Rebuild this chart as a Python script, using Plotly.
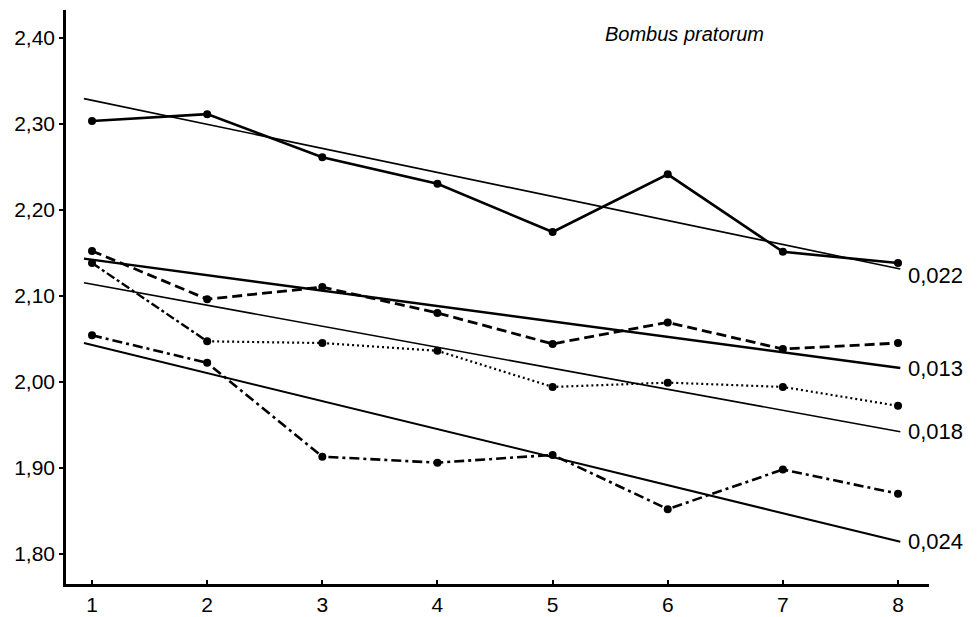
import plotly.graph_objects as go

x_vals = [1, 2, 3, 4, 5, 6, 7, 8]

series_solid = [2.303, 2.311, 2.261, 2.230, 2.174, 2.241, 2.151, 2.138]
series_dashed = [2.152, 2.096, 2.110, 2.080, 2.044, 2.069, 2.038, 2.045]
series_dotted = [2.138, 2.047, 2.045, 2.036, 1.994, 1.999, 1.994, 1.972]
series_dashdot = [2.054, 2.022, 1.913, 1.906, 1.915, 1.852, 1.898, 1.870]

# regression lines: (x start, x end), (value start, value end), label
trend_x = [0.93, 8.02]
trend_022 = [2.329, 2.131]
trend_013 = [2.143, 2.016]
trend_018 = [2.115, 1.942]
trend_024 = [2.045, 1.814]
trend_labels = ["0,022", "0,013", "0,018", "0,024"]

y_ticks = [1.80, 1.90, 2.00, 2.10, 2.20, 2.30, 2.40]
y_tick_text = ["1,80", "1,90", "2,00", "2,10", "2,20", "2,30", "2,40"]
x_tick_text = ["1", "2", "3", "4", "5", "6", "7", "8"]

FONT = "Liberation Sans, Arial, sans-serif"

fig = go.Figure()

# trend lines
trend_widths = [1.6, 2.3, 1.6, 2.0]
for vals, w in zip([trend_022, trend_013, trend_018, trend_024], trend_widths):
    fig.add_trace(go.Scatter(x=trend_x, y=vals, mode="lines",
                             line=dict(color="black", width=w),
                             hoverinfo="skip", showlegend=False))

# first segment of the dotted series is drawn dash-dot in the original
fig.add_trace(go.Scatter(x=x_vals[:2], y=series_dotted[:2], mode="lines",
                         line=dict(color="black", width=2.4, dash="9px,3px,3px,3px"),
                         hoverinfo="skip", showlegend=False))

# data series
styles = [
    (x_vals, series_solid, "solid", 2.6),
    (x_vals, series_dashed, "10px,5px", 2.8),
    (x_vals[1:], series_dotted[1:], "2px,3px", 2.2),
    (x_vals, series_dashdot, "10px,4px,3px,4px", 2.6),
]
for xs, vals, dash, w in styles:
    fig.add_trace(go.Scatter(x=xs, y=vals, mode="lines+markers",
                             line=dict(color="black", width=w, dash=dash),
                             marker=dict(color="black", size=8),
                             showlegend=False))
fig.add_trace(go.Scatter(x=x_vals[:1], y=series_dotted[:1], mode="markers",
                         marker=dict(color="black", size=8), showlegend=False))

annotations = []
for vals, lab, dy in zip([trend_022, trend_013, trend_018, trend_024], trend_labels, [-0.007, 0, 0, 0]):
    annotations.append(dict(x=8.07, y=vals[1] + dy, text=lab, showarrow=False,
                            xanchor="left", yanchor="middle",
                            font=dict(family=FONT, size=22, color="black")))
annotations.append(dict(x=5.44, y=2.404, text="<i>Bombus pratorum</i>", showarrow=False,
                        xanchor="left", yanchor="middle",
                        font=dict(family=FONT, size=20, color="black")))

fig.update_layout(
    width=969, height=609,
    margin=dict(l=58, r=48, t=2, b=33),
    paper_bgcolor="white", plot_bgcolor="white",
    annotations=annotations,
    font=dict(family=FONT, size=20, color="black"),
)
fig.update_xaxes(range=[0.774, 8.269], tickvals=x_vals, ticktext=x_tick_text,
                 showline=True, linecolor="black", linewidth=2.5, showgrid=False, zeroline=False,
                 ticks="inside", ticklen=4, tickwidth=2, tickcolor="black",
                 tickfont=dict(size=21))
fig.update_yaxes(range=[1.765, 2.432], tickvals=y_ticks, ticktext=y_tick_text,
                 showline=True, linecolor="black", linewidth=2.5, showgrid=False, zeroline=False,
                 ticks="outside", ticklen=4, tickwidth=2, tickcolor="black",
                 tickfont=dict(size=21))

fig.write_html("out.html")
